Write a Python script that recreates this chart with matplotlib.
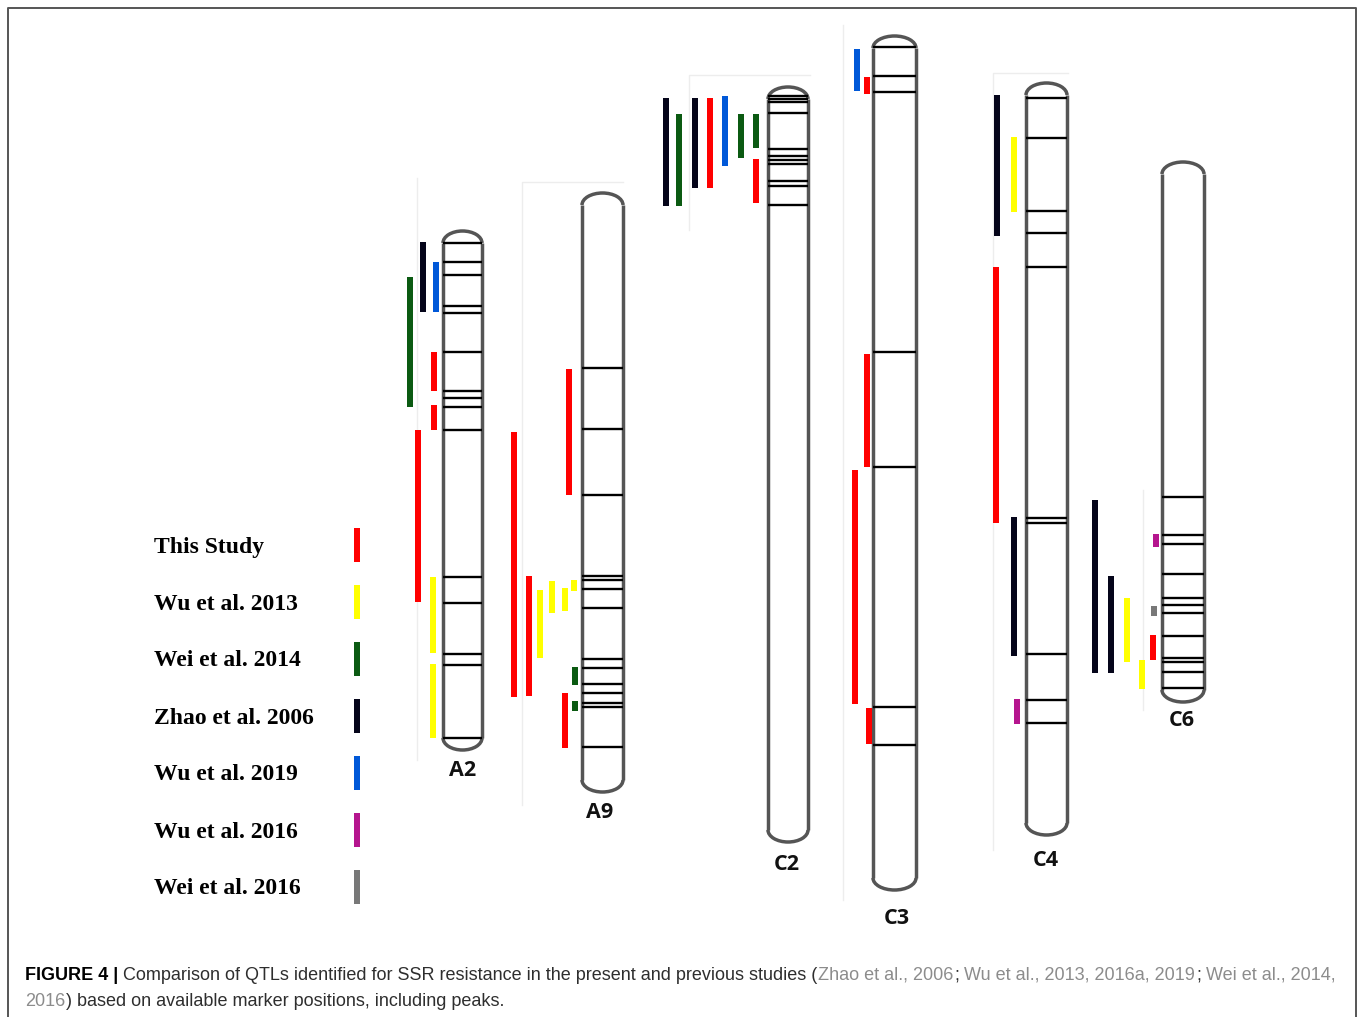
import matplotlib
matplotlib.use("Agg")
import matplotlib.pyplot as plt
from matplotlib.patches import Arc

# ---------------- data ----------------
studies = ["This Study", "Wu et al. 2013", "Wei et al. 2014", "Zhao et al. 2006",
           "Wu et al. 2019", "Wu et al. 2016", "Wei et al. 2016"]
study_colors = ["#ff0000", "#ffff00", "#0b5a12", "#05051a", "#0058d8", "#b5158e", "#787878"]

chrom_names = ["A2", "A9", "C2", "C3", "C4", "C6"]
chrom_top = [231, 193, 87, 36, 83, 162]
chrom_bottom = [750, 792, 842, 890, 835, 702]

markers_A2 = [243, 262, 275, 306, 313, 352, 391, 398, 407, 430, 577, 603, 654, 665, 738]
markers_A9 = [368, 429, 495, 576, 580, 589, 608, 659, 668, 684, 693, 703, 707, 747]
markers_C2 = [96, 99, 102, 113, 149, 156, 160, 164, 181, 186, 205]
markers_C3 = [47, 76, 92, 352, 467, 707, 745]
markers_C4 = [98, 138, 211, 233, 267, 518, 523, 654, 700, 723]
markers_C6 = [497, 535, 544, 574, 598, 605, 613, 636, 658, 662, 672, 688]

# QTL intervals: (study index, start, end)
qtl_A2 = [(3, 242, 312), (4, 262, 312), (2, 277, 407), (0, 352, 391), (0, 405, 430),
          (0, 430, 602), (1, 577, 653), (1, 664, 738)]
qtl_A9 = [(0, 369, 495), (0, 432, 697), (0, 576, 696), (1, 590, 658), (1, 581, 613),
          (1, 588, 611), (1, 580, 591), (2, 667, 685), (2, 701, 711), (0, 693, 748)]
qtl_C2 = [(3, 98, 206), (2, 114, 206), (3, 98, 188), (0, 98, 188), (4, 96, 166),
          (2, 114, 158), (2, 114, 148), (0, 159, 203)]
qtl_C3 = [(4, 49, 91), (0, 77, 94), (0, 354, 467), (0, 470, 704), (0, 708, 744)]
qtl_C4 = [(3, 95, 236), (1, 137, 212), (0, 267, 523), (3, 517, 656), (5, 699, 724)]
qtl_C6 = [(3, 500, 673), (3, 576, 673), (1, 598, 662), (1, 660, 689), (5, 534, 547),
          (6, 606, 616), (0, 635, 660)]

# ---------------- layout ----------------
W, H = 1358, 1017
chrom_left = [443, 582, 768, 873, 1026, 1162]
chrom_right = [482, 623, 808, 916, 1067, 1204]
label_xy = [(463, 770), (600, 812), (787, 864), (897, 918), (1046, 861), (1182, 721)]
lanes_A2 = [423, 436, 410, 434, 434, 418, 433, 433]
lanes_A9 = [569, 514, 529, 540, 552, 565, 574, 575, 575, 565]
lanes_C2 = [666, 679, 695, 710, 725, 741, 756, 756]
lanes_C3 = [857, 867, 867, 855, 869]
lanes_C4 = [997, 1014, 996, 1014, 1017]
lanes_C6 = [1095, 1111, 1127, 1142, 1156, 1154, 1153]

all_markers = [markers_A2, markers_A9, markers_C2, markers_C3, markers_C4, markers_C6]
all_qtls = [qtl_A2, qtl_A9, qtl_C2, qtl_C3, qtl_C4, qtl_C6]
all_lanes = [lanes_A2, lanes_A9, lanes_C2, lanes_C3, lanes_C4, lanes_C6]

cap = 12
bar_w = 6.5
outline = "#555555"

fig = plt.figure(figsize=(W / 100, H / 100), dpi=100)
ax = fig.add_axes([0, 0, 1, 1])
ax.set_xlim(0, W)
ax.set_ylim(H, 0)
ax.axis("off")

# outer frame
ax.plot([8, 8, 1356, 1356], [H, 8, 8, H], color="#555555", lw=1.4)

# faint panel borders around each chromosome group (kept underneath everything)
faint = "#ededed"
for xs, ys in [([417, 417], [178, 760]),
               ([522, 522, 623], [805, 182, 182]),
               ([689, 689, 810], [230, 75, 75]),
               ([843, 843], [25, 900]),
               ([993, 993, 1068], [850, 73, 73]),
               ([1143, 1143], [490, 710])]:
    ax.plot(xs, ys, color=faint, lw=1, zorder=0)

# chromosomes
for name, top, bot, xl, xr, mk, (lx, ly) in zip(chrom_names, chrom_top, chrom_bottom,
                                                 chrom_left, chrom_right, all_markers, label_xy):
    xc = (xl + xr) / 2
    w = xr - xl
    ax.plot([xl, xl], [top + cap, bot - cap], color=outline, lw=2.5, solid_capstyle="butt")
    ax.plot([xr, xr], [top + cap, bot - cap], color=outline, lw=2.5, solid_capstyle="butt")
    ax.add_patch(Arc((xc, top + cap), w, 2 * cap, theta1=180, theta2=360,
                     color=outline, lw=2.5))
    ax.add_patch(Arc((xc, bot - cap), w, 2 * cap, theta1=0, theta2=180,
                     color=outline, lw=2.5))
    ax.hlines(mk, xl, xr, color="black", lw=1.7)
    ax.text(lx, ly, name, ha="center", va="center", fontsize=15.5, fontweight="bold",
            family="Open Sans", color="#111111")

# QTL bars
for qtls, lanes in zip(all_qtls, all_lanes):
    for (s, y0, y1), x in zip(qtls, lanes):
        ax.bar(x, y1 - y0, bottom=y0, width=bar_w, color=study_colors[s], linewidth=0,
               zorder=3)

# legend
legend_y = [547, 604, 661, 718, 775, 832, 889]
for name, col, y in zip(studies, study_colors, legend_y):
    ax.text(154, y, name, ha="left", va="center", fontsize=17, fontweight="bold",
            family="Liberation Serif", color="black")
    ax.bar(357, 34, bottom=y - 19, width=6, color=col, linewidth=0)

# caption, assembled from pieces of different colour
dark, light = "#2e2e2e", "#8c8c8c"
line1 = [("FIGURE 4 |", "black", "bold", True),
         ("Comparison of QTLs identified for SSR resistance in the present and previous studies (",
          dark, "normal", False),
         ("Zhao et al., 2006", light, "normal", False),
         (";", dark, "normal", True),
         ("Wu et al., 2013, 2016a, 2019", light, "normal", False),
         (";", dark, "normal", True),
         ("Wei et al., 2014,", light, "normal", False)]
line2 = [("2016", light, "normal", False),
         (") based on available marker positions, including peaks.", dark, "normal", False)]

renderer = fig.canvas.get_renderer()


def draw_line(pieces, x0, y, fs, draw=True):
    x = x0
    arts = []
    for txt, col, wt, gap in pieces:
        t = ax.text(x, y, txt, ha="left", va="center", fontsize=fs, fontweight=wt,
                    family="Liberation Sans", color=col)
        bb = t.get_window_extent(renderer)
        x = bb.x1 + (fs * 0.40 if gap else 0.6)
        arts.append(t)
    if not draw:
        for a in arts:
            a.remove()
    return x


fs = 12.0
end = draw_line(line1, 25, 975, fs, draw=False)
fs = fs * (1338 - 25) / (end - 25)
draw_line(line1, 25, 975, fs)
draw_line(line2, 25, 1001, fs)

fig.savefig("out.png", dpi=100)
